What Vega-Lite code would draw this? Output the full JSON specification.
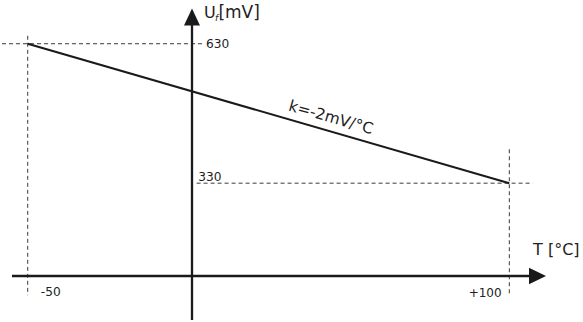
{
  "$schema": "https://vega.github.io/schema/vega-lite/v6.json",
  "width": 583,
  "height": 322,
  "autosize": {"type": "fit", "contains": "padding"},
  "padding": 0,
  "background": "white",
  "config": {"view": {"stroke": null}, "font": "DejaVu Sans"},
  "datasets": {
    "guides": [
      {"x": -58.0, "y": 630, "x2": 4.6, "y2": 630},
      {"x": -50, "y": 647, "x2": -50, "y2": 89},
      {"x": 2.6, "y": 330, "x2": 107.3, "y2": 330},
      {"x": 100, "y": 403, "x2": 100, "y2": 91}
    ],
    "axes": [
      {"x": -54.9, "y": 130.3, "x2": 108, "y2": 130.3},
      {"x": 1.17, "y": 35.6, "x2": 1.17, "y2": 700}
    ],
    "curve": [
      {"x": -50, "y": 630, "x2": 100, "y2": 330}
    ],
    "xarrow": [{"x": 111.43, "y": 130.3}],
    "yarrow": [{"x": 1.17, "y": 705.9}],
    "ticksLeft": [
      {"x": 5.5, "y": 621.4, "label": "630"},
      {"x": 3.1, "y": 335.6, "label": "330"},
      {"x": -45.9, "y": 87.6, "label": "-50"}
    ],
    "ticksRight": [
      {"x": 97.6, "y": 84.8, "label": "+100"}
    ],
    "titleU": [
      {"x": 4.9, "y": 684.5, "label": "U"},
      {"x": 107.4, "y": 175.7, "label": "T [°C]"}
    ],
    "titleUnit": [
      {"x": 9.4, "y": 684.5, "label": "[mV]"}
    ],
    "sub": [
      {"x": 8.3, "y": 679.2, "label": "f"}
    ],
    "slope": [
      {"x": 31.0, "y": 487.0, "label": "k=-2mV/°C"}
    ]
  },
  "layer": [
    {
      "data": {"name": "guides"},
      "mark": {"type": "rule", "stroke": "#3a3a3a", "strokeWidth": 1, "strokeDash": [4, 3]},
      "encoding": {
        "x": {"field": "x", "type": "quantitative", "scale": {"domain": [-58.63, 122.95], "nice": false, "zero": false}, "axis": null},
        "y": {"field": "y", "type": "quantitative", "scale": {"domain": [35.64, 724.06], "nice": false, "zero": false}, "axis": null},
        "x2": {"field": "x2"},
        "y2": {"field": "y2"}
      }
    },
    {
      "data": {"name": "axes"},
      "mark": {"type": "rule", "stroke": "#1a1a1a", "strokeWidth": 2.3},
      "encoding": {
        "x": {"field": "x", "type": "quantitative"},
        "y": {"field": "y", "type": "quantitative"},
        "x2": {"field": "x2"},
        "y2": {"field": "y2"}
      }
    },
    {
      "data": {"name": "curve"},
      "mark": {"type": "rule", "stroke": "#1a1a1a", "strokeWidth": 2.1},
      "encoding": {
        "x": {"field": "x", "type": "quantitative"},
        "y": {"field": "y", "type": "quantitative"},
        "x2": {"field": "x2"},
        "y2": {"field": "y2"}
      }
    },
    {
      "data": {"name": "xarrow"},
      "mark": {"type": "point", "shape": "M0,0L-2,-0.98L-2,0.98Z", "size": 289, "filled": true, "fill": "#1a1a1a", "opacity": 1, "strokeWidth": 0},
      "encoding": {
        "x": {"field": "x", "type": "quantitative"},
        "y": {"field": "y", "type": "quantitative"}
      }
    },
    {
      "data": {"name": "yarrow"},
      "mark": {"type": "point", "shape": "M0,0L-0.94,2L0.94,2Z", "size": 289, "filled": true, "fill": "#1a1a1a", "opacity": 1, "strokeWidth": 0},
      "encoding": {
        "x": {"field": "x", "type": "quantitative"},
        "y": {"field": "y", "type": "quantitative"}
      }
    },
    {
      "data": {"name": "ticksLeft"},
      "mark": {"type": "text", "align": "left", "baseline": "alphabetic", "fontSize": 12.2, "fill": "#222222"},
      "encoding": {
        "x": {"field": "x", "type": "quantitative"},
        "y": {"field": "y", "type": "quantitative"},
        "text": {"field": "label"}
      }
    },
    {
      "data": {"name": "ticksRight"},
      "mark": {"type": "text", "align": "right", "baseline": "alphabetic", "fontSize": 12, "fill": "#222222"},
      "encoding": {
        "x": {"field": "x", "type": "quantitative"},
        "y": {"field": "y", "type": "quantitative"},
        "text": {"field": "label"}
      }
    },
    {
      "data": {"name": "titleU"},
      "mark": {"type": "text", "align": "left", "baseline": "alphabetic", "fontSize": 16, "fill": "#222222"},
      "encoding": {
        "x": {"field": "x", "type": "quantitative"},
        "y": {"field": "y", "type": "quantitative"},
        "text": {"field": "label"}
      }
    },
    {
      "data": {"name": "titleUnit"},
      "mark": {"type": "text", "align": "left", "baseline": "alphabetic", "fontSize": 17, "fill": "#222222"},
      "encoding": {
        "x": {"field": "x", "type": "quantitative"},
        "y": {"field": "y", "type": "quantitative"},
        "text": {"field": "label"}
      }
    },
    {
      "data": {"name": "sub"},
      "mark": {"type": "text", "align": "left", "baseline": "alphabetic", "fontSize": 9, "fontStyle": "italic", "fill": "#222222"},
      "encoding": {
        "x": {"field": "x", "type": "quantitative"},
        "y": {"field": "y", "type": "quantitative"},
        "text": {"field": "label"}
      }
    },
    {
      "data": {"name": "slope"},
      "mark": {"type": "text", "align": "left", "baseline": "alphabetic", "fontSize": 15.5, "angle": 16, "fill": "#222222"},
      "encoding": {
        "x": {"field": "x", "type": "quantitative"},
        "y": {"field": "y", "type": "quantitative"},
        "text": {"field": "label"}
      }
    }
  ]
}
